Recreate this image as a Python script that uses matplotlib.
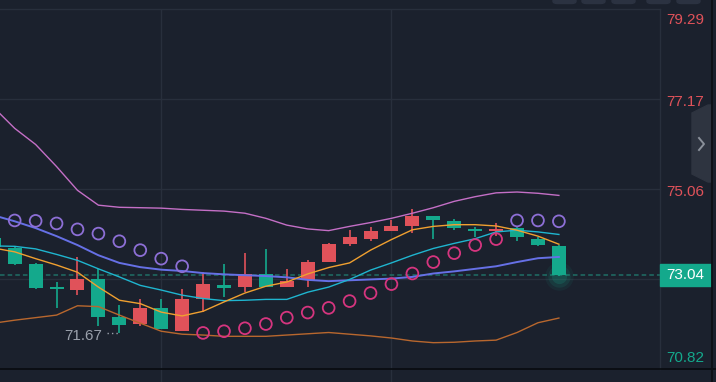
import numpy as np
import matplotlib.pyplot as plt
from matplotlib import transforms
from matplotlib.lines import Line2D
from matplotlib.patches import Rectangle, Polygon, FancyBboxPatch

# candle index (-1 is the sliver cut by the left edge)
idx = np.arange(-1, 27)
opens = [73.90, 73.67, 73.29, 72.72, 72.68, 72.93, 72.05, 71.88, 72.25, 71.72, 72.47, 72.81, 72.75, 73.07,
         72.75, 72.91, 73.34, 73.76, 73.88, 74.07, 74.19, 74.43, 74.31, 74.11, 74.07, 74.15, 73.89, 73.72]
highs = [73.97, 73.71, 73.31, 72.87, 73.45, 73.17, 72.32, 72.46, 72.46, 72.70, 73.10, 73.29, 73.55, 73.64,
         73.17, 73.38, 73.79, 74.09, 74.17, 74.32, 74.58, 74.43, 74.35, 74.17, 74.25, 74.17, 73.92, 73.74]
lows = [73.66, 73.26, 72.70, 72.26, 72.56, 71.83, 71.67, 71.84, 71.76, 71.72, 72.16, 72.52, 72.64, 72.75,
        72.75, 72.75, 73.34, 73.72, 73.84, 74.07, 74.03, 73.88, 74.10, 73.92, 73.95, 73.84, 73.71, 73.01]
closes = [73.69, 73.29, 72.73, 72.71, 72.94, 72.05, 71.85, 72.25, 71.76, 72.46, 72.82, 72.73, 73.07, 72.75,
          72.89, 73.34, 73.76, 73.92, 74.07, 74.19, 74.43, 74.32, 74.14, 74.07, 74.13, 73.92, 73.74, 73.04]

# bollinger bands and moving averages
boll_up = [76.98, 76.49, 76.11, 75.59, 75.03, 74.68, 74.63, 74.62, 74.61, 74.58, 74.56, 74.54, 74.49, 74.37,
           74.21, 74.12, 74.08, 74.18, 74.27, 74.37, 74.49, 74.62, 74.77, 74.88, 74.97, 74.99, 74.96, 74.91]
boll_mid = [74.44, 74.30, 74.14, 73.95, 73.74, 73.50, 73.32, 73.22, 73.16, 73.13, 73.08, 73.05, 73.03, 73.01,
            72.98, 72.92, 72.89, 72.91, 72.93, 72.95, 72.99, 73.07, 73.12, 73.18, 73.24, 73.34, 73.43, 73.46]
boll_low = [71.90, 71.97, 72.03, 72.09, 72.31, 72.29, 72.09, 71.90, 71.71, 71.64, 71.62, 71.59, 71.59, 71.59,
            71.62, 71.65, 71.68, 71.64, 71.60, 71.55, 71.48, 71.44, 71.45, 71.48, 71.50, 71.68, 71.91, 72.02]
ma_fast = [73.67, 73.58, 73.42, 73.27, 73.10, 72.75, 72.44, 72.36, 72.16, 72.07, 72.18, 72.40, 72.61, 72.77,
           72.87, 73.06, 73.21, 73.32, 73.62, 73.87, 74.10, 74.18, 74.22, 74.22, 74.19, 74.09, 73.95, 73.76]
ma_slow = [73.72, 73.71, 73.65, 73.52, 73.38, 73.18, 72.99, 72.79, 72.68, 72.56, 72.48, 72.43, 72.44, 72.46,
           72.46, 72.63, 72.75, 72.93, 73.15, 73.32, 73.50, 73.66, 73.78, 73.89, 74.05, 74.09, 74.05, 73.99]

# parabolic SAR (from candle 0)
sar_idx = np.arange(0, 27)
sar = [74.32, 74.31, 74.25, 74.11, 74.01, 73.83, 73.62, 73.42, 73.24, 71.67, 71.71, 71.78, 71.88, 72.03,
       72.15, 72.26, 72.42, 72.61, 72.82, 73.07, 73.34, 73.55, 73.74, 73.88, 74.32, 74.32, 74.30]

price_ticks = [79.29, 77.17, 75.06, 72.94, 70.82]
last_price = 73.04
low_mark = (5, 71.67)

BG = '#1b212d'
GRID = '#282f3c'
UP = '#e0525a'
DOWN = '#14a98c'

fig = plt.figure(figsize=(7.16, 3.82), dpi=100, facecolor=BG)
ax = fig.add_axes([0, 13 / 382, 660 / 716, 359.5 / 382])
ax.set_facecolor(BG)
ax.set_xlim(-0.702, 30.83)
ax.set_ylim(price_ticks[-1], price_ticks[0])
ax.set_xticks([])
ax.set_yticks([])
for s in ['top', 'bottom', 'left']:
    ax.spines[s].set_visible(False)
ax.spines['right'].set_color(GRID)
ax.spines['right'].set_linewidth(1)

# grid
for p in price_ticks[:-1]:
    ax.axhline(p, color=GRID, lw=1, clip_on=False, zorder=0)
for xv in [7, 18]:
    ax.axvline(xv, ymin=-13 / 359.5, ymax=1, color=GRID, lw=1, clip_on=False, zorder=0)
fig.add_artist(Line2D([0, 1], [13 / 382, 13 / 382], color='#0a0d12', lw=1.3, transform=fig.transFigure))
fig.add_artist(Line2D([712 / 716, 712 / 716], [0, 1], color='#0d1015', lw=1.3, transform=fig.transFigure))

# last price dashed line
ax.axhline(last_price, color='#1f6e66', lw=1.1, ls=(0, (3, 2)), zorder=1)

# candles
o = np.array(opens); c = np.array(closes)
cols = [UP if cc >= oo else DOWN for oo, cc in zip(o, c)]
ax.vlines(idx, lows, highs, colors=cols, lw=1.2, zorder=2)
body_h = np.maximum(np.abs(c - o), 0.04)
ax.bar(idx, body_h, bottom=np.minimum(o, c), width=0.67, color=cols, zorder=3)

# glow on last candle
for s, a in [(420, 0.08), (260, 0.12), (120, 0.18)]:
    ax.scatter([idx[-1]], [lows[-1]], s=s, color=DOWN, alpha=a, lw=0, zorder=2.5)

# lines
ax.plot(idx, boll_up, color='#c46fc6', lw=1.0, zorder=4)
ax.plot(idx, boll_low, color='#b8672e', lw=1.0, zorder=4)
ax.plot(idx, boll_mid, color='#6670e6', lw=1.4, zorder=4)
ax.plot(idx, ma_slow, color='#1fb5cf', lw=1.0, zorder=4)
ax.plot(idx, ma_fast, color='#f0a030', lw=1.0, zorder=4)

# SAR circles
sar = np.array(sar)
sar_cols = ['#8d6fd6' if sv > hv else '#d6357f' for sv, hv in zip(sar, highs[1:])]
ax.scatter(sar_idx, sar, s=72, facecolors='none', edgecolors=sar_cols, linewidths=1.3, zorder=5)

# low annotation
ax.plot([low_mark[0] - 0.6, low_mark[0]], [low_mark[1], low_mark[1]], color='#9aa0ab', lw=1,
        ls=(0, (1, 2.2)), zorder=5)
ax.text(low_mark[0] - 0.8, low_mark[1], '%.2f' % low_mark[1], color='#9aa0ab', fontsize=11,
        family='Liberation Sans', ha='right', va='center',
        transform=transforms.offset_copy(ax.transData, fig=fig, x=0, y=-3, units='dots'))

# price scale labels
blend = transforms.blended_transform_factory(ax.transAxes, ax.transData)
offs = [-11, -2.7, -2.7, None, 11]
lab_cols = [UP, UP, UP, None, DOWN]
for p, dy, col in zip(price_ticks, offs, lab_cols):
    if dy is None:
        continue
    tr = transforms.offset_copy(blend, fig=fig, x=0, y=dy, units='dots')
    ax.text(1.009, p, '%.2f' % p, color=col, fontsize=11, family='Liberation Sans',
            ha='left', va='center', transform=tr)

# current price box
ax.add_patch(Rectangle((1.0, last_price - 0.26), 51 / 660, 0.52, transform=blend, color=DOWN,
                       clip_on=False, zorder=6))
ax.text(1.0 + 25.5 / 660, last_price, '%.2f' % last_price, color='white', fontsize=11,
        family='Liberation Sans', ha='center', va='center', transform=blend, zorder=7)

# side tab and top buttons
px = lambda x, y: (x / 716, 1 - y / 382)
fig.add_artist(Polygon([px(692, 113), px(708, 105), px(711, 105), px(711, 182), px(708, 182), px(692, 174)],
                       closed=True, color='#2e3440', transform=fig.transFigure))
fig.add_artist(Line2D([699 / 716, 704 / 716, 699 / 716], [1 - 138 / 382, 1 - 144 / 382, 1 - 150 / 382],
                      color='#8a909a', lw=1.4, transform=fig.transFigure))
for x0 in [553, 582, 612, 647, 677]:
    fig.add_artist(FancyBboxPatch((x0 / 716, 1 - 3.5 / 382), 23 / 716, 10 / 382,
                                  boxstyle='round,pad=0,rounding_size=0.006', color='#2b3241',
                                  transform=fig.transFigure))

fig.savefig('out.png', dpi=100, facecolor=BG)
